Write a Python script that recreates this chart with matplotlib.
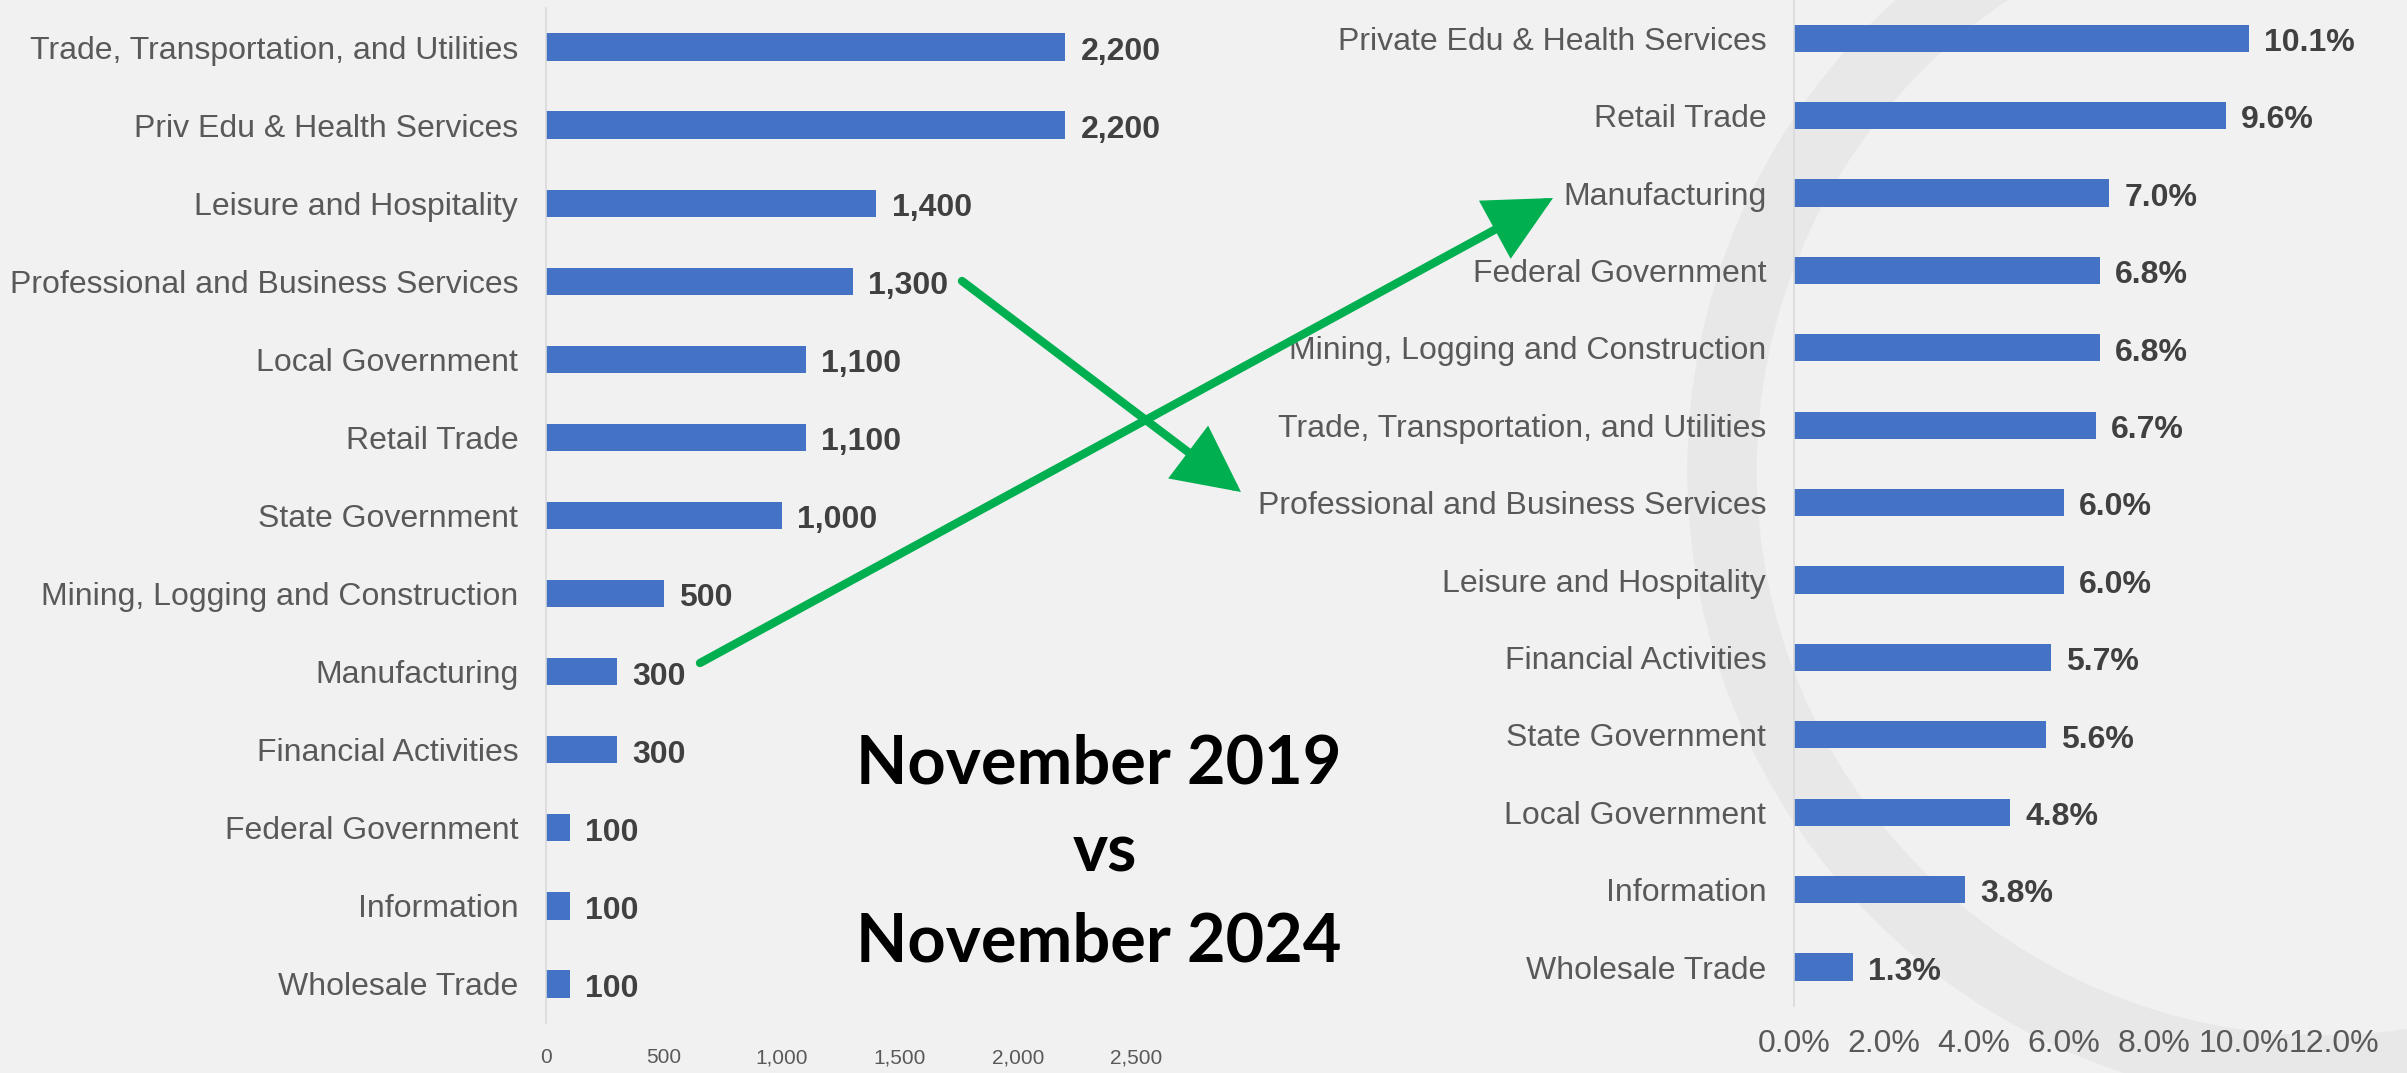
import numpy as np
import matplotlib
matplotlib.use("Agg")
import matplotlib.pyplot as plt
from matplotlib.patches import Circle, FancyArrowPatch

# job change Nov 2019 -> Nov 2024 (thousands), top to bottom
left_cats = ["Trade, Transportation, and Utilities", "Priv Edu & Health Services",
             "Leisure and Hospitality", "Professional and Business Services",
             "Local Government", "Retail Trade", "State Government",
             "Mining, Logging and Construction", "Manufacturing",
             "Financial Activities", "Federal Government", "Information",
             "Wholesale Trade"]
left_vals = [2200, 2200, 1400, 1300, 1100, 1100, 1000, 500, 300, 300, 100, 100, 100]
left_ticks = [0, 500, 1000, 1500, 2000, 2500]

# percent change, top to bottom
right_cats = ["Private Edu & Health Services", "Retail Trade", "Manufacturing",
              "Federal Government", "Mining, Logging and Construction",
              "Trade, Transportation, and Utilities",
              "Professional and Business Services", "Leisure and Hospitality",
              "Financial Activities", "State Government", "Local Government",
              "Information", "Wholesale Trade"]
right_vals = [10.1, 9.6, 7.0, 6.8, 6.8, 6.7, 6.0, 6.0, 5.7, 5.6, 4.8, 3.8, 1.3]
right_ticks = [0, 2, 4, 6, 8, 10, 12]

title_lines = ["November 2019", "vs", "November 2024"]

BLUE = "#4472C4"
GREEN = "#00B050"
LABEL = "#595959"
VALUE = "#404040"
W, H = 2407, 1073

plt.rcParams["font.family"] = ["Liberation Sans", "DejaVu Sans"]

fig = plt.figure(figsize=(W / 100, H / 100), dpi=100)
fig.patch.set_facecolor("#f1f1f1")

# faint watermark ring in the background
bg = fig.add_axes([0, 0, 1, 1], zorder=0)
bg.set_xlim(0, W)
bg.set_ylim(H, 0)
bg.axis("off")
bg.add_patch(Circle((2322, 470), 600, fill=False, ec="#e8e8e8", lw=50))


def bar_panel(rect, cats, vals, ticks, xmax, fmt_val, fmt_tick, tick_size, tick_pad):
    ax = fig.add_axes(rect, zorder=2)
    ax.patch.set_alpha(0)
    y = np.arange(len(cats))
    ax.barh(y, vals, height=0.35, color=BLUE)
    ax.set_ylim(len(cats) - 0.5, -0.5)
    ax.set_xlim(0, xmax)
    ax.set_yticks(y)
    ax.set_yticklabels(cats, fontsize=23, color=LABEL)
    ax.set_xticks(ticks)
    ax.set_xticklabels([fmt_tick(t) for t in ticks], fontsize=tick_size, color=LABEL)
    ax.tick_params(axis="y", length=0, pad=20)
    ax.tick_params(axis="x", length=0, pad=tick_pad)
    for s in ["top", "right", "bottom"]:
        ax.spines[s].set_visible(False)
    ax.spines["left"].set_color("#d9d9d9")
    ax.spines["left"].set_linewidth(1.2)
    for yi, v in zip(y, vals):
        ax.annotate(fmt_val(v), (v, yi), xytext=(11, -3.5), textcoords="offset points",
                    va="center", ha="left", fontsize=23, fontweight="bold",
                    color=VALUE, annotation_clip=False)
    return ax


bar_panel([546 / W, 1 - 1023 / H, 590 / W, 1015 / H], left_cats, left_vals,
          left_ticks, 2500, lambda v: f"{v:,}", lambda t: f"{t:,}", 15, 18)
bar_panel([1794 / W, 1 - 1005.7 / H, 540 / W, 1006.2 / H], right_cats, right_vals,
          right_ticks, 12, lambda v: f"{v:.1f}%", lambda t: f"{t:.1f}%", 23, 17)

# overlay for title and arrows, in pixel coords
ov = fig.add_axes([0, 0, 1, 1], zorder=5)
ov.set_xlim(0, W)
ov.set_ylim(H, 0)
ov.axis("off")

for txt, yb, x in zip(title_lines, [783, 872, 962], [1099, 1105, 1099]):
    ov.text(x, yb, txt, ha="center", va="baseline", fontsize=48,
            fontweight="bold", family=["Lato", "DejaVu Sans"], color="black")

for start, tip in [((962, 281), (1241, 492)), ((700, 663), (1553, 198))]:
    ov.add_patch(FancyArrowPatch(start, tip, arrowstyle="-|>,head_length=38,head_width=19",
                                 mutation_scale=1, lw=6, color=GREEN,
                                 shrinkA=0, shrinkB=0, joinstyle="miter"))

fig.savefig("out.png", dpi=100, facecolor=fig.get_facecolor())
